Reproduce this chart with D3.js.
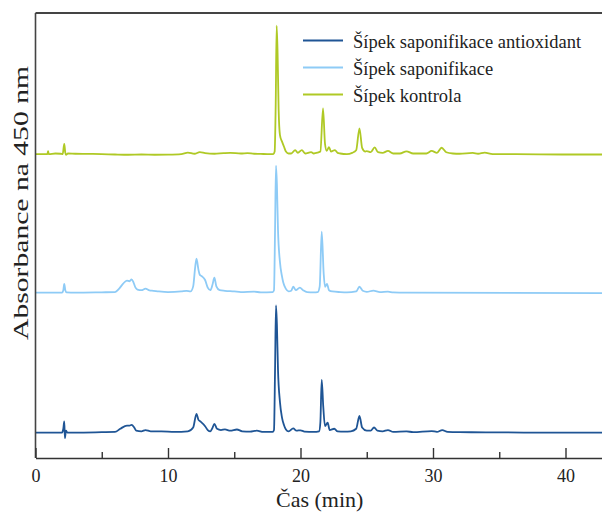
<!DOCTYPE html>
<html>
<head>
<meta charset="utf-8">
<script src="https://cdn.jsdelivr.net/npm/d3@7"></script>
<style>
  html, body { margin: 0; padding: 0; background: #fff; }
  svg { display: block; }
</style>
</head>
<body>
<svg id="chart" width="602" height="513"></svg>
<script>
// ---- DATA (retention time in min, absorbance in relative mAU) ----
const seriesNames = ["Šípek saponifikace antioxidant", "Šípek saponifikace", "Šípek kontrola"];
const seriesOffsets = [0, 110, 219];

const antioxidantTrace = [
  [0,0],[1.5,0],[2.0,0],[2.1,3],[2.17,8.7],[2.22,-4.4],[2.3,1.5],[2.4,0],[3,0],[5,0.3],[6.0,0.5],[6.4,3],
  [6.9,5.5],[7.1,5.5],[7.25,6],[7.45,4],[7.6,1.5],[8,1],[8.3,2],[8.7,1],[9.5,1],[10.5,0.5],[11.5,1],
  [11.9,4],[12.15,14.7],[12.3,10],[12.45,8.7],[12.8,5],[13.0,2],[13.2,1],[13.35,3.5],[13.5,6.8],[13.7,3],
  [14.0,2],[14.3,2.5],[14.7,1.5],[15.2,2.4],[15.6,1],[16.2,0.7],[16.7,1.5],[17.2,0.5],[17.9,0.5],
  [18.0,2],[18.08,50],[18.15,100],[18.22,85],[18.3,50],[18.45,24],[18.6,12],[18.75,6],[18.9,2.5],[19.1,1],
  [19.45,3.3],[19.7,1.5],[20.0,1.8],[20.3,0.8],[21.0,0.5],[21.4,1],[21.5,8],[21.6,41.5],[21.72,20],[21.85,5],
  [22.05,7.9],[22.2,2],[22.55,3],[22.8,1],[23.3,0.8],[23.8,1],[24.2,3],[24.45,13.1],[24.65,4],[25,1.5],
  [25.3,1.5],[25.55,4],[25.8,1.5],[26.2,1],[26.6,2],[27,0.5],[28,1],[28.5,0.3],[29.9,1.2],[30.3,0.5],
  [30.7,2],[31.1,0.5],[32,0.3],[34,0.2],[38,0],[43,0]
];

const saponifikaceTrace = [
  [0,0],[2.0,0],[2.1,2],[2.17,7],[2.25,2],[2.35,0.3],[3,0],[5,0.3],[6.0,0.5],[6.3,3],[6.6,7],[6.9,9.5],
  [7.1,9],[7.25,10.5],[7.4,8],[7.55,4],[7.7,2.5],[8.0,2],[8.3,3.2],[8.6,1.8],[8.9,1.5],[9.3,1],[10,0.5],
  [11,1],[11.4,1.5],[11.7,1],[11.9,5],[12.05,20],[12.15,26.8],[12.3,18],[12.4,14],[12.55,13],[12.8,10],
  [13.0,4],[13.2,2],[13.35,6],[13.5,11.8],[13.65,5],[13.9,2],[14.3,1.5],[15,1],[15.5,0.5],[16.5,0.8],
  [17,0.3],[17.9,0.5],[18.0,2],[18.08,50],[18.15,100],[18.22,85],[18.3,50],[18.45,24],[18.6,13],[18.7,8],
  [18.9,3],[19.1,1],[19.3,1.5],[19.45,4.7],[19.65,2],[19.95,4],[20.2,2],[20.5,0.5],[21.0,0.3],[21.3,0.5],
  [21.45,5],[21.6,48],[21.75,15],[21.85,4.7],[22.0,7],[22.15,2],[22.4,1],[23,0.5],[23.5,0.3],[24.2,1],
  [24.45,4.7],[24.7,1.5],[25,0.7],[25.5,1.6],[26,0.5],[26.6,0.8],[27,0.2],[28,0],[43,-0.3]
];

const kontrolaTrace = [
  [0,0],[0.9,0],[0.95,2.4],[1.0,0],[1.5,0.5],[1.9,0.3],[2.05,0],[2.17,8],[2.25,1],[2.3,-0.5],[2.45,0.5],
  [3,0.3],[4,0.2],[5,0],[6,-0.3],[7,-0.5],[8,-0.3],[9,-0.5],[10,-0.4],[11,0],[11.5,1.2],[12,0.3],
  [12.4,1.5],[12.8,0.8],[13.5,0.3],[14.2,0.8],[14.7,1],[15.5,0.5],[16,0.8],[16.5,0.3],[17,0.2],[17.5,0],
  [17.95,0],[18.05,2],[18.13,40],[18.2,101],[18.27,80],[18.35,35],[18.45,15],[18.6,10],[18.75,6],[18.9,2],
  [19.1,0.5],[19.3,0.5],[19.6,3.2],[19.8,1],[20.1,3.2],[20.35,0.5],[20.8,1.6],[21.0,0.5],[21.3,1.2],[21.5,2],
  [21.7,36],[21.85,8],[21.98,2.5],[22.15,5.5],[22.3,2],[22.6,3.2],[22.8,1],[23.0,0.5],[23.5,0],[23.9,1],
  [24.2,3],[24.45,20.2],[24.65,5],[24.9,2],[25.0,2.4],[25.3,1.5],[25.6,5.3],[25.85,1.5],[26.2,1],[26.6,2.5],
  [27,0.5],[27.5,0.5],[28.0,2.2],[28.5,0.5],[29.5,0.5],[29.9,2.5],[30.3,1],[30.65,5],[31.0,1.5],[31.5,0.5],
  [32,0.3],[33,1],[33.4,0.3],[33.9,1.2],[34.5,0],[36,0],[40,-0.3],[43,-0.3]
];

const traces = [antioxidantTrace, saponifikaceTrace, kontrolaTrace];
const seriesColors = ["#1f5595", "#8ecbf6", "#afc925"];

const majorTicks = [0, 10, 20, 30, 40];
const minorTicks = [5, 15, 25, 35];
const xTitle = "Čas (min)";
const yTitle = "Absorbance na 450 nm";

// ---- CHART ----
const FONT = '"Liberation Serif", "Times New Roman", Tinos, serif';
const svg = d3.select("#chart");
const plotLeft = 35.5, plotTop = 13, plotBottom = 458;
const x = d3.scaleLinear().domain([0, 43]).range([plotLeft, plotLeft + 43 * 13.25]);
const y = d3.scaleLinear().domain([-20, 330]).range([plotBottom, plotTop]);

// traces
const line = d3.line()
  .x(d => x(d[0]))
  .y(d => y(d[1]))
  .curve(d3.curveMonotoneX);

traces.forEach((tr, i) => {
  const pts = tr.map(p => [p[0], p[1] + seriesOffsets[i]]);
  svg.append("path")
    .datum(pts)
    .attr("fill", "none")
    .attr("stroke", seriesColors[i])
    .attr("stroke-width", 1.8)
    .attr("stroke-linejoin", "round")
    .attr("d", line);
});

// frame: top border
svg.append("line")
  .attr("x1", plotLeft).attr("x2", 607)
  .attr("y1", plotTop).attr("y2", plotTop)
  .attr("stroke", "#444").attr("stroke-width", 1.8);

// left axis (no ticks)
svg.append("line")
  .attr("x1", plotLeft).attr("x2", plotLeft)
  .attr("y1", plotTop).attr("y2", plotBottom)
  .attr("stroke", "#444").attr("stroke-width", 1.6);

// bottom axis, major ticks inward
const xAxis = svg.append("g")
  .attr("transform", `translate(0,${plotBottom})`)
  .call(d3.axisBottom(x).tickValues(majorTicks).tickSizeInner(-10).tickSizeOuter(0).tickPadding(11).tickFormat(d3.format("d")));
xAxis.attr("font-family", FONT).attr("font-size", 18);
xAxis.select(".domain").attr("stroke", "#333").attr("stroke-width", 1.6);
xAxis.selectAll(".tick line").attr("stroke", "#333").attr("stroke-width", 1.4);
xAxis.selectAll(".tick text")
  .attr("font-family", FONT)
  .attr("font-size", 18).attr("fill", "#222");

// minor ticks
const xMinor = svg.append("g")
  .attr("transform", `translate(0,${plotBottom})`)
  .call(d3.axisBottom(x).tickValues(minorTicks).tickSizeInner(-6).tickSizeOuter(0).tickFormat(""));
xMinor.select(".domain").remove();
xMinor.selectAll(".tick line").attr("stroke", "#333").attr("stroke-width", 1.4);

// axis titles
svg.append("text")
  .attr("x", (plotLeft + 602) / 2 + 1).attr("y", 507)
  .attr("text-anchor", "middle")
  .attr("font-family", FONT)
  .attr("font-size", 22)
  .attr("fill", "#222")
  .text(xTitle);

svg.append("text")
  .attr("transform", "translate(28,203) rotate(-90)")
  .attr("text-anchor", "middle")
  .attr("textLength", 274)
  .attr("lengthAdjust", "spacingAndGlyphs")
  .attr("font-family", FONT)
  .attr("font-size", 21)
  .attr("fill", "#222")
  .text(yTitle);

// legend
const legend = svg.append("g");
seriesNames.forEach((name, i) => {
  const ly = 40.5 + i * 27;
  legend.append("line")
    .attr("x1", 303).attr("x2", 343)
    .attr("y1", ly).attr("y2", ly)
    .attr("stroke", seriesColors[i]).attr("stroke-width", 2);
  legend.append("text")
    .attr("x", 353).attr("y", ly + 7)
    .attr("font-family", FONT)
    .attr("font-size", 18.5)
    .attr("fill", "#222")
    .text(name);
});
</script>
</body>
</html>
